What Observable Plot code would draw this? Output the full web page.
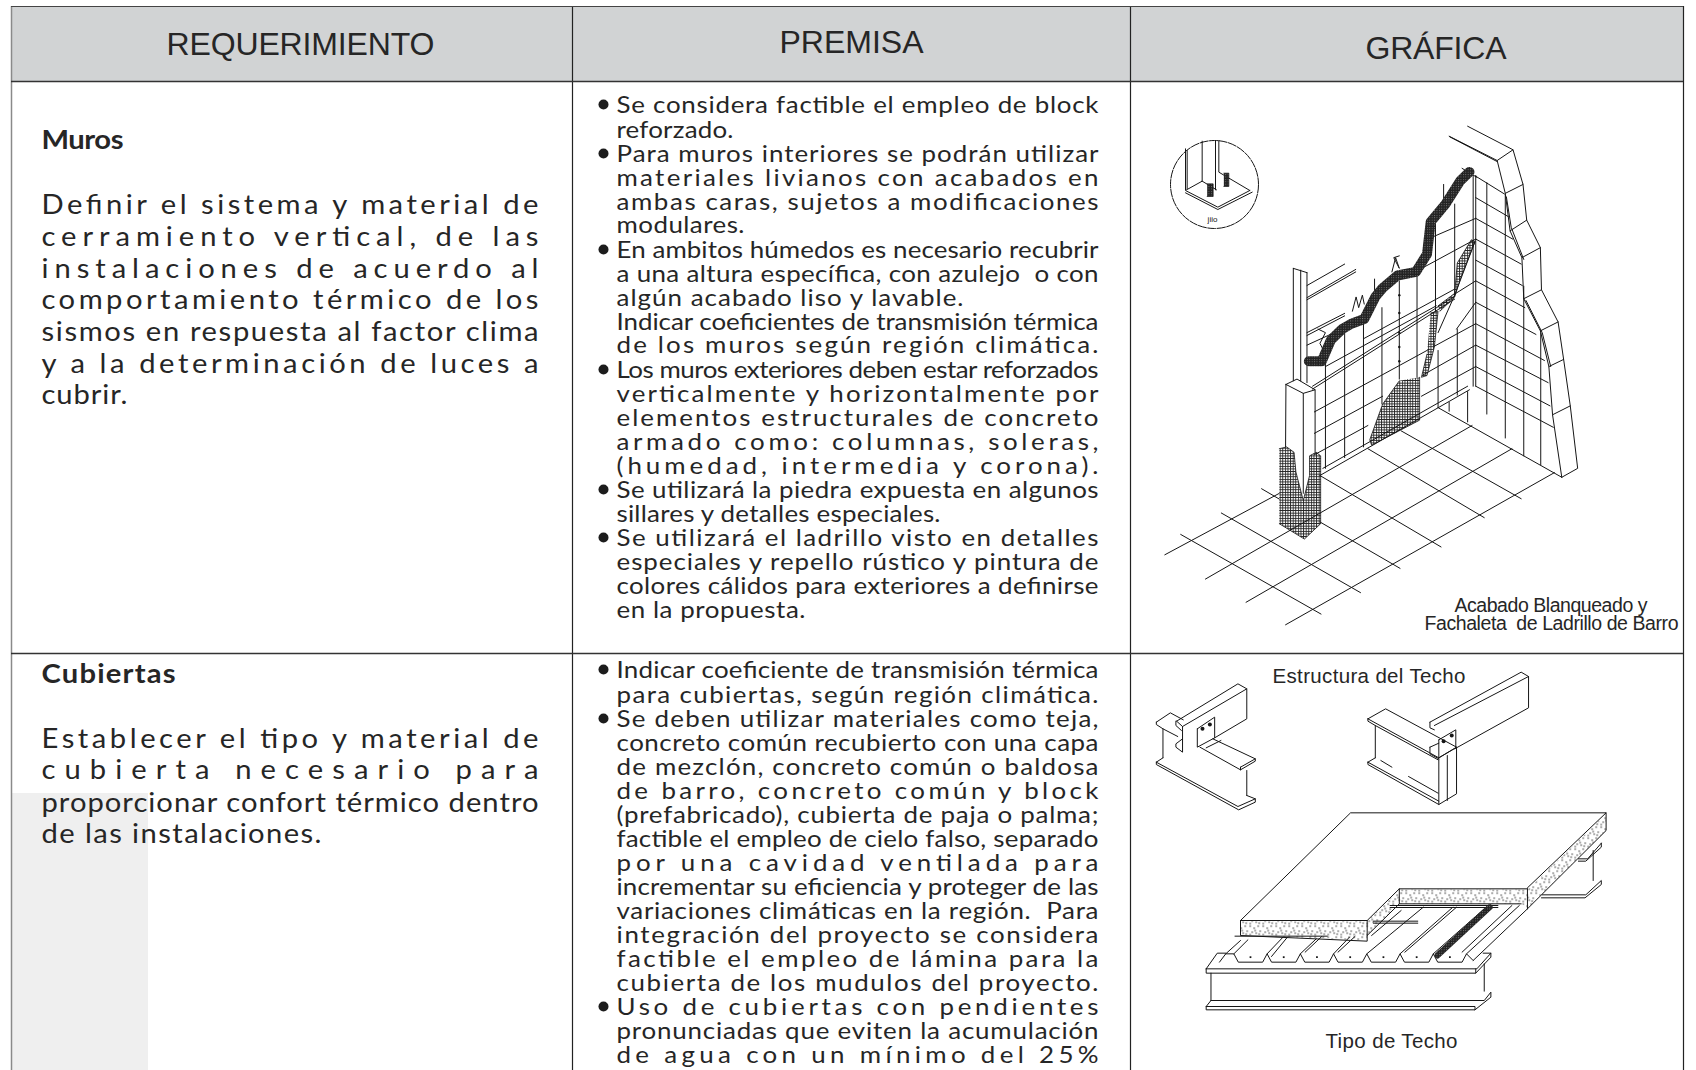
<!DOCTYPE html>
<html lang="es">
<head>
<meta charset="utf-8">
<style>html,body{margin:0;padding:0;background:#fff;overflow:hidden}svg{display:block}</style>
<script src="https://cdn.jsdelivr.net/npm/d3@7"></script>
<script src="https://cdn.jsdelivr.net/npm/@observablehq/plot@0.6"></script>
</head>
<body>
<script>
const BODY = "Lato", ARIAL = "Liberation Sans";
const WIDEN = 1.08; // the body face is narrower than the reference's round face

// ---------- table text: [text, left, right, baseline]
const headers = [
  ["REQUERIMIENTO", 166, 434, 54],
  ["PREMISA", 779, 923, 52],
  ["GRÁFICA", 1365, 1506, 58]
];
const sectionTitles = [
  ["Muros", 41, 123, 148],
  ["Cubiertas", 41, 175, 682]
];
const requirementLines = [
  ["Definir el sistema y material de", 41, 538, 213],
  ["cerramiento vertical, de las", 41, 538, 245],
  ["instalaciones de acuerdo al", 41, 538, 277],
  ["comportamiento térmico de los", 41, 538, 308],
  ["sismos en respuesta al factor clima", 41, 538, 340],
  ["y a la determinación de luces a", 41, 538, 372],
  ["cubrir.", 41, 127, 403],
  ["Establecer el tipo y material de", 41, 538, 747],
  ["cubierta necesario para", 41, 538, 778],
  ["proporcionar confort térmico dentro", 41, 538, 811],
  ["de las instalaciones.", 41, 321, 842]
];
const premiseLines = [
  ["Se considera factible el empleo de block", 616, 1098, 112],
  ["reforzado.", 616, 733, 137],
  ["Para muros interiores se podrán utilizar", 616, 1098, 161],
  ["materiales livianos con acabados en", 616, 1098, 185],
  ["ambas caras, sujetos a modificaciones", 616, 1098, 209],
  ["modulares.", 616, 744, 232],
  ["En ambitos húmedos es necesario recubrir", 616, 1098, 257],
  ["a una altura específica, con azulejo  o con", 616, 1098, 281],
  ["algún acabado liso y lavable.", 616, 963, 305],
  ["Indicar coeficientes de transmisión térmica", 616, 1098, 329],
  ["de los muros según región climática.", 616, 1098, 352],
  ["Los muros exteriores deben estar reforzados", 616, 1098, 377],
  ["verticalmente y horizontalmente por", 616, 1098, 401],
  ["elementos estructurales de concreto", 616, 1098, 425],
  ["armado como: columnas, soleras,", 616, 1098, 449],
  ["(humedad, intermedia y corona).", 616, 1098, 473],
  ["Se utilizará la piedra expuesta en algunos", 616, 1098, 497],
  ["sillares y detalles especiales.", 616, 940, 521],
  ["Se utilizará el ladrillo visto en detalles", 616, 1098, 545],
  ["especiales y repello rústico y pintura de", 616, 1098, 569],
  ["colores cálidos para exteriores a definirse", 616, 1098, 593],
  ["en la propuesta.", 616, 805, 617],
  ["Indicar coeficiente de transmisión térmica", 616, 1098, 677],
  ["para cubiertas, según región climática.", 616, 1098, 702],
  ["Se deben utilizar materiales como teja,", 616, 1098, 726],
  ["concreto común recubierto con una capa", 616, 1098, 750],
  ["de mezclón, concreto común o baldosa", 616, 1098, 774],
  ["de barro, concreto común y block", 616, 1098, 798],
  ["(prefabricado), cubierta de paja o palma;", 616, 1098, 822],
  ["factible el empleo de cielo falso, separado", 616, 1098, 846],
  ["por una cavidad ventilada para", 616, 1098, 870],
  ["incrementar su eficiencia y proteger de las", 616, 1098, 894],
  ["variaciones climáticas en la región.  Para", 616, 1098, 918],
  ["integración del proyecto se considera", 616, 1098, 942],
  ["factible el empleo de lámina para la", 616, 1098, 966],
  ["cubierta de los mudulos del proyecto.", 616, 1098, 990],
  ["Uso de cubiertas con pendientes", 616, 1098, 1014],
  ["pronunciadas que eviten la acumulación", 616, 1098, 1038],
  ["de agua con un mínimo del 25%", 616, 1098, 1062]
];
const wallCaptions = [
  ["Acabado Blanqueado y", 1454, 1647, 611],
  ["Fachaleta  de Ladrillo de Barro", 1424, 1678, 629]
];
const roofCaptions = [
  ["Estructura del Techo", 1272, 1465, 682],
  ["Tipo de Techo", 1325, 1457, 1047]
];
const bulletBaselines = [112, 161, 257, 377, 497, 545, 677, 726, 1014];

// ---------- table geometry
const columnRules = [572, 1130, 1683];
const rowRules = [81, 653];

// ---------- wall drawing, polylines (crop units)
const wallLines = [
  // brick facade
  [[890,100],[1020,168],[1063,138],[940,72]],[[892,102],[1020,171]],
  [[1063,138],[1090,235],[1100,335],[1137,412],[1140,530],[1185,620],[1200,725],[1218,855],[1238,1030],[1195,1055]],
  [[1020,168],[1042,260],[1055,365],[1087,440],[1092,555],[1137,645],[1160,745],[1170,880],[1195,1055]],
  [[1042,260],[1090,235]],[[1055,365],[1100,335]],[[1087,440],[1137,412]],[[1092,555],[1140,530]],
  [[1137,645],[1185,620]],[[1160,745],[1200,725]],[[1170,880],[1218,855]],
  [[1045,270],[1058,355],[1092,445]],[[1098,560],[1142,650],[1165,745]],
  // right wall
  [[962,210],[962,800]],[[955,210],[955,800]],[[992,230],[992,878]],[[1042,265],[1042,945]],[[1092,520],[1092,995]],[[1138,650],[1138,1020]],
  [[962,212],[1040,262]],[[962,272],[1050,325]],[[962,330],[1062,388]],[[962,388],[1085,458]],[[962,447],[1088,518]],
  [[962,505],[1095,580]],[[962,565],[1125,655]],[[962,625],[1148,728]],[[962,685],[1158,790]],[[962,745],[1163,855]],[[962,800],[1172,915]],
  // back wall verticals
  [[555,720],[555,1030]],[[607,650],[607,1000]],[[658,620],[658,970]],[[708,580],[708,850]],[[755,505],[755,780]],
  [[803,490],[803,775]],[[853,345],[853,590]],[[860,700],[860,860]],[[905,290],[905,545]],[[912,640],[912,825]],
  [[890,845],[890,870]],[[940,815],[940,900]],
  // back wall rows
  [[525,992],[670,910]],[[815,828],[962,745]],[[525,932],[710,828]],[[820,768],[962,685]],[[525,872],[835,697]],[[850,688],[962,625]],
  [[520,800],[905,548]],[[520,808],[905,556]],[[555,745],[855,575]],[[905,542],[962,505]],[[660,666],[905,528]],[[805,476],[962,388]],[[850,380],[962,330]],
  [[910,640],[962,565]],
  // wall base and floor
  [[540,1050],[945,810]],[[548,1030],[940,800]],
  [[1175,1042],[447,1468]],[[1060,975],[340,1405]],[[952,910],[230,1340]],[[430,1100],[120,1272]],
  [[163,1215],[543,1438]],[[273,1155],[650,1378]],[[382,1087],[430,1116]],[[540,1180],[757,1310]],
  [[540,1050],[868,1250]],[[670,975],[985,1168]],[[760,925],[1085,1115]],[[860,860],[1195,1055]],
  // column
  [[448,795],[495,820],[527,810],[478,780],[448,795]],
  [[448,795],[447,970]],[[495,820],[495,1100]],[[527,810],[527,985]],
  [[468,470],[468,785]],[[505,482],[505,790]],[[488,475],[488,785]],[[468,470],[505,482]],
  // beams and ties at the upper left
  [[505,518],[607,458]],[[505,552],[637,473]],[[505,558],[637,480]],[[505,650],[607,596]],[[505,658],[607,603]],[[505,685],[600,640]],
  [[628,590],[638,550],[645,580],[655,545],[660,570]],[[735,480],[745,440],[755,470],[740,440],[755,435]],
  [[535,640],[555,650],[540,680],[550,700]],[[688,500],[688,548]],[[875,235],[875,300]],
  [[860,650],[905,545],[960,395]],[[925,190],[965,215]]
];
const wallHatch = [
  [[430,975],[450,970],[470,985],[475,1040],[495,1120],[512,1050],[512,995],[530,985],[542,995],[542,1185],[498,1228],[430,1185]],
  [[810,775],[810,895],[680,965],[675,950],[710,850],[755,785]],
  [[840,595],[860,590],[850,690],[830,770],[815,775],[830,710]],
  [[860,575],[905,540],[912,455],[950,390],[960,395],[920,500],[905,550],[865,590]]
];
const wallBand = [[510,730],[545,730],[570,670],[600,640],[625,625],[660,612],[690,550],[710,525],[750,490],[800,480],[830,430],[840,340],[880,290],[920,225],[945,200]];
const wallPins = [[755,545],[755,595],[755,650],[755,690],[755,730]];

// ---------- inset detail (crop units)
const insetCircle = [[1214, 184]];
const insetLines = [
  [[75,55],[75,180],[172,230],[268,180]],[[80,60],[80,175]],[[125,32],[125,152],[78,178]],[[125,152],[168,178]],
  [[165,30],[165,178]],[[175,30],[175,125],[268,180]],[[75,187],[172,237],[275,185]]
];
const insetBolts = [
  [[140,160],[158,160],[158,198],[140,198]],
  [[190,128],[205,128],[205,168],[190,168]]
];

// ---------- roof drawings (crop units)
const roofLines = [
  // left joint
  [[97,215],[135,187],[170,208]],[[97,215],[97,222],[115,235],[155,258]],[[115,235],[115,322]],
  [[97,335],[115,322]],[[97,335],[97,342],[320,478],[365,455],[365,445],[342,435]],[[97,335],[318,468],[365,445]],
  [[342,360],[342,435]],[[250,265],[365,325],[365,332],[325,358],[215,290]],[[325,350],[365,325]],[[325,350],[325,358]],
  [[152,212],[318,100],[342,115],[342,205],[255,262]],[[168,228],[342,115]],
  [[152,212],[168,228],[168,305],[150,290],[150,280],[168,265]],[[150,212],[150,225],[165,240]],
  [[208,235],[255,200],[255,262],[208,290],[208,235]],[[232,292],[272,270]],
  // right joint
  [[670,205],[718,175],[910,290],[862,322],[670,205]],[[670,205],[670,212],[690,225],[860,328]],
  [[690,225],[690,322]],[[670,335],[690,322]],[[670,335],[670,342],[862,462],[910,430],[910,290]],[[670,335],[862,452]],
  [[862,322],[862,462]],[[885,315],[885,450]],[[838,215],[1085,65],[1105,78],[1105,172],[905,295]],[[850,225],[1105,78]],
  [[838,215],[838,232],[850,238]],[[838,290],[862,278]],[[838,290],[838,310],[862,325]],
  [[862,268],[908,238],[908,292],[862,322],[862,268]],[[705,330],[735,350]],[[780,378],[860,428]],
  // slab
  [[325,810],[623,487],[1315,487],[1102,712]],[[325,810],[668,810],[755,715],[1102,715]],
  [[325,810],[325,855],[668,872],[668,810]],[[755,715],[755,760],[668,855]],[[755,760],[1085,760]],[[1102,715],[1102,775]],
  [[1315,487],[1315,540],[1102,775]],
  // decking
  [[268,935],[285,910],[307,910],[319,935],[385,935],[397,910],[409,935],[475,935],[487,910],[499,935],[565,935],[577,910],[589,935],[655,935],[667,910],[679,935],[745,935],[757,910],[769,935],[835,935],[847,910],[859,935],[925,935],[937,910],[955,930]],
  [[285,910],[325,870]],[[307,910],[345,868]],[[397,910],[440,860]],[[409,918],[452,860]],[[487,910],[530,865]],[[500,905],[545,858]],[[577,910],[620,860]],[[589,905],[635,858]],
  [[667,910],[820,770]],[[680,855],[760,780]],[[757,910],[900,770]],[[770,905],[910,770]],[[847,910],[990,770]],[[937,910],[1080,765]],[[955,930],[1102,775]],[[925,905],[1060,765]],
  [[310,857],[560,857]],[[685,812],[805,812]],[[685,818],[805,818]],[[730,765],[1022,765]],[[730,771],[1022,771]],
  // front beam
  [[232,955],[965,955],[1003,908],[982,908]],[[232,955],[232,968],[962,968],[962,955]],[[232,955],[262,908],[285,908]],[[245,968],[245,1050]],[[985,940],[985,1022]],
  [[245,1050],[232,1068],[232,1078],[960,1078],[960,1068],[232,1068]],[[245,1050],[985,1050],[1003,1025],[1003,1040],[960,1078]],[[1003,908],[1003,920],[962,968]],
  // rear beam
  [[1302,578],[1265,625],[1240,625]],[[1302,578],[1302,590],[1260,632],[1240,632]],[[1280,600],[1280,690]],
  [[1142,733],[1260,733],[1302,690],[1302,702],[1258,742],[1140,742]]
];
const roofSpeckle = [
  [[325,812],[668,812],[668,870],[325,853]],
  [[755,717],[1102,717],[1102,772],[1085,760],[755,760],[668,855],[668,812]],
  [[1102,717],[1315,490],[1315,540],[1102,775]]
];
const roofStrip = [[858,915],[1000,770]];
const roofBolts = [[222,235],[242,222],[875,272],[897,255]];
const roofDashes = [[352,920],[442,920],[532,920],[622,920],[712,920],[802,920],[892,920]];

// ---------- crop units to page pixels
const wallPt = ([X, Y]) => [1120 + X / 2.708, 100 + Y / 2.8];
const insetPt = ([X, Y]) => [1160 + X / 3, 130 + Y / 3];
const roofPt = ([X, Y]) => [1120 + X / 2.708, 650 + Y / 3];
const segs = (lists, f) => lists.flatMap((l, id) => l.map(p => { const [x, y] = f(p); return {x, y, id}; }));
const pts = (list, f) => list.map(p => { const [x, y] = f(p); return {x, y}; });
const rows = (a, widen = 1) => a.map(([t, x0, x1, y]) => ({t, x0, x1, y, widen}));

const INK = "#161616", TEXT = "#262626";
const lineMark = (data, o = {}) => Plot.line(data, {x: "x", y: "y", z: "id", stroke: INK, strokeWidth: 1, curve: "linear", ...o});
const textMark = (data, o) => Plot.text(data, {x: "x0", y: "y", text: "t", textAnchor: "start", lineAnchor: "bottom", fill: TEXT, ...o});

const headerRows = rows(headers), reqRows = rows(requirementLines, WIDEN), premRows = rows(premiseLines, WIDEN),
      titleRows = rows(sectionTitles, WIDEN), wallCapRows = rows(wallCaptions), roofCapRows = rows(roofCaptions);
const textOrder = [...headerRows, ...reqRows, ...premRows, ...titleRows, ...wallCapRows, ...roofCapRows];

const plot = Plot.plot({
  width: 1696, height: 1070,
  margin: 0, marginTop: 0, marginRight: 0, marginBottom: 0, marginLeft: 0,
  x: {domain: [0, 1696], range: [0, 1696], axis: null},
  y: {domain: [0, 1070], range: [0, 1070], axis: null},
  marks: [
    Plot.rectY([{x1: 11, x2: 148, y1: 793, y2: 1070}], {x1: "x1", x2: "x2", y1: "y1", y2: "y2", fill: "#efefef"}),
    Plot.rectY([{x1: 11, x2: 1683, y1: 6, y2: 81}], {x1: "x1", x2: "x2", y1: "y1", y2: "y2", fill: "#d1d3d4"}),
    Plot.ruleX([11], {y1: 6, y2: 1070, stroke: "#8a8a8a", strokeWidth: 1.5}),
    Plot.ruleX(columnRules, {y1: 6, y2: 1070, stroke: "#222", strokeWidth: 1.2}),
    Plot.ruleY([6], {x1: 11, x2: 1683, stroke: "#444", strokeWidth: 1.2}),
    Plot.ruleY(rowRules, {x1: 11, x2: 1683, stroke: "#333", strokeWidth: 1.4}),

    textMark(headerRows, {fontFamily: ARIAL, fontSize: 32}),
    textMark(reqRows, {fontFamily: BODY, fontSize: 27}),
    textMark(premRows, {fontFamily: BODY, fontSize: 24}),
    textMark(titleRows, {fontFamily: BODY, fontSize: 27, fontWeight: 700}),
    textMark(wallCapRows, {fontFamily: ARIAL, fontSize: 19.5}),
    textMark(roofCapRows, {fontFamily: ARIAL, fontSize: 20.5}),
    Plot.dot(bulletBaselines, {x: 603, y: d => d - 8, r: 5, fill: "#1c1c1c", stroke: "none"}),

    // wall
    Plot.line(segs(wallHatch, wallPt), {x: "x", y: "y", z: "id", fill: "url(#mesh)", stroke: INK, strokeWidth: 0.8}),
    lineMark(segs(wallLines, wallPt)),
    lineMark(segs([wallBand], wallPt), {stroke: "url(#dense)", strokeWidth: 10, strokeLinejoin: "round"}),
    Plot.dot(pts(wallPins, wallPt), {x: "x", y: "y", r: 1.2, fill: INK}),

    // inset
    Plot.dot(insetCircle, {x: d => d[0], y: d => d[1], r: 44, stroke: INK, strokeWidth: 1, fill: "none", strokeDasharray: "9 0.6"}),
    lineMark(segs(insetLines, insetPt)),
    Plot.line(segs(insetBolts, insetPt), {x: "x", y: "y", z: "id", fill: "url(#dense)", stroke: INK, strokeWidth: 0.7}),
    Plot.text([{x: 1212, y: 219}], {x: "x", y: "y", text: () => "jiio", fontSize: 8, fontFamily: ARIAL, fill: INK}),

    // roof
    Plot.line(segs(roofSpeckle, roofPt), {x: "x", y: "y", z: "id", fill: "url(#speckle)", stroke: "none"}),
    lineMark(segs(roofLines, roofPt)),
    lineMark(segs([roofStrip], roofPt), {stroke: "url(#dense)", strokeWidth: 6}),
    Plot.dot(pts(roofBolts, roofPt), {x: "x", y: "y", r: 2, fill: INK}),
    Plot.dot(pts(roofDashes, roofPt), {x: "x", y: "y", symbol: "square", r: 1, fill: INK}),

    // pattern definitions for the hatched drawing areas
    () => {
      const g = d3.create("svg:g");
      const defs = g.append("defs");
      const mesh = defs.append("pattern").attr("id", "mesh").attr("patternUnits", "userSpaceOnUse").attr("width", 2.6).attr("height", 2.6);
      mesh.append("rect").attr("width", 2.6).attr("height", 2.6).attr("fill", "#fff");
      mesh.append("path").attr("d", "M0 .5H2.6M.5 0V2.6").attr("stroke", "#222").attr("stroke-width", 0.9);
      const dense = defs.append("pattern").attr("id", "dense").attr("patternUnits", "userSpaceOnUse").attr("width", 2.4).attr("height", 2.4);
      dense.append("rect").attr("width", 2.4).attr("height", 2.4).attr("fill", "#222");
      dense.append("rect").attr("x", 1).attr("y", 1).attr("width", 0.7).attr("height", 0.7).attr("fill", "#bbb");
      const sp = defs.append("pattern").attr("id", "speckle").attr("patternUnits", "userSpaceOnUse").attr("width", 13).attr("height", 11);
      sp.append("rect").attr("width", 13).attr("height", 11).attr("fill", "#fff");
      sp.append("path").attr("d", "M1 1h1.300v1.300h-1.300zM5 3h1.300v1.300h-1.300zM9 1h1.300v1.300h-1.300zM11 6h1.300v1.300h-1.300zM3 7h1.300v1.300h-1.300zM7 8h1.300v1.300h-1.300zM1 9.500h1.300v1.300h-1.300zM10 9h1.300v1.300h-1.300zM6 5.500h1.300v1.300h-1.300z").attr("fill", "#333");
      return g.node();
    }
  ]
});

// Fit each line between its read left and right edges (the reference is justified).
plot.querySelectorAll("text").forEach((el, i) => {
  const r = textOrder[i];
  if (!r) return;
  el.setAttribute("textLength", (r.x1 - r.x0) / r.widen);
  el.setAttribute("lengthAdjust", "spacing");
  el.setAttribute("xml:space", "preserve");
  if (r.widen !== 1) el.setAttribute("transform", `${el.getAttribute("transform") || ""} scale(${r.widen},1)`);
});
document.body.append(plot);
</script>
</body>
</html>
